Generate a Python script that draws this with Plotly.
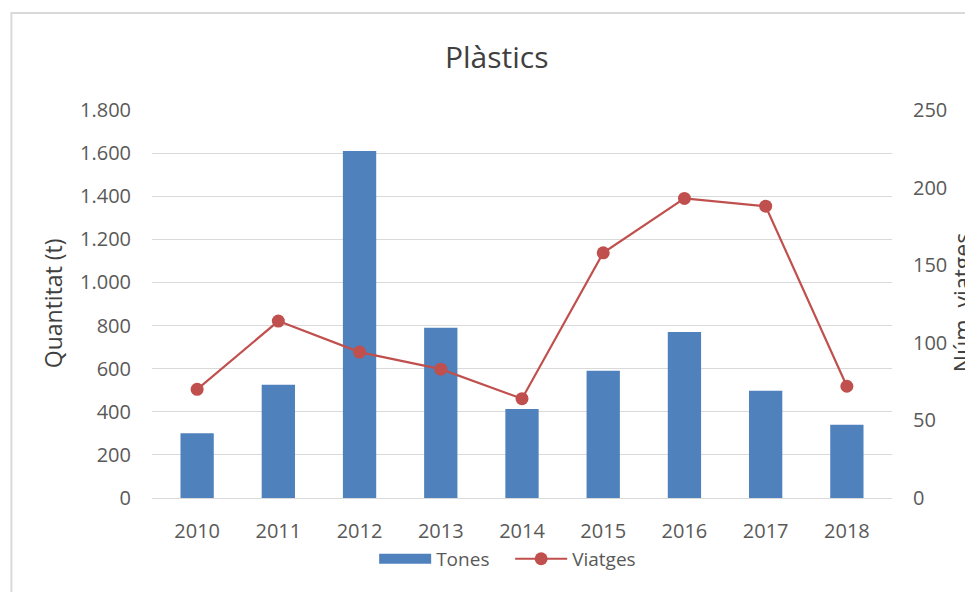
import plotly.graph_objects as go

anys = ["2010", "2011", "2012", "2013", "2014", "2015", "2016", "2017", "2018"]
tones = [300, 525, 1610, 790, 413, 590, 770, 497, 340]
viatges = [70, 114, 94, 83, 64, 158, 193, 188, 72]

txt = "#595959"
font = "Open Sans"
blau = "#4f81bd"
vermell = "#c0504d"
clear = "rgba(0,0,0,0)"

fig = go.Figure()
fig.add_trace(go.Bar(
    x=anys, y=tones, name="Tones", showlegend=False,
    marker=dict(color=blau, line=dict(width=0)),
))
# legend stand-in so the swatch is a wide block like in Excel
fig.add_trace(go.Scatter(
    x=[None], y=[None], name="Tones", mode="lines",
    line=dict(color=blau, width=12),
))
fig.add_trace(go.Scatter(
    x=anys, y=viatges, name="Viatges", yaxis="y2",
    mode="lines+markers",
    line=dict(color=vermell, width=2.2),
    marker=dict(color=vermell, size=13),
))

fig.update_layout(
    width=973, height=592,
    margin=dict(l=144, r=89, t=102, b=102, autoexpand=False),
    paper_bgcolor="white", plot_bgcolor="white",
    separators=",.",
    font=dict(family=font, color=txt, size=20),
    bargap=0.59,
    xaxis=dict(showgrid=False, showline=True, linecolor="#d9d9d9",
               ticks="outside", ticklen=15, tickcolor=clear, automargin=False,
               tickfont=dict(size=20, color=txt)),
    yaxis=dict(range=[0, 1800], dtick=200, tickformat=",d", separatethousands=True,
               gridcolor="#d9d9d9", gridwidth=1, zeroline=False, automargin=False,
               ticks="outside", ticklen=16, tickcolor=clear,
               tickfont=dict(size=20, color=txt)),
    yaxis2=dict(range=[0, 250], dtick=50, overlaying="y", side="right",
                showgrid=False, zeroline=False, automargin=False,
                ticks="outside", ticklen=16, tickcolor=clear,
                tickfont=dict(size=20, color=txt)),
    legend=dict(orientation="h", x=0.484, xanchor="center", y=-0.157, yanchor="middle",
                font=dict(size=19, color=txt), itemwidth=52, entrywidth=69),
    annotations=[
        dict(text="Plàstics", xref="paper", yref="paper", x=0.466, y=1.137,
             showarrow=False, font=dict(size=30, color="#404040"),
             xanchor="center", yanchor="middle"),
        dict(text="Quantitat (t)", xref="paper", yref="paper", x=-0.1346, y=0.503,
             textangle=-90, showarrow=False, font=dict(size=23, color="#404040"),
             xanchor="center", yanchor="middle"),
        dict(text="Núm. viatges", xref="paper", yref="paper", x=1.095, y=0.503,
             textangle=-90, showarrow=False, font=dict(size=23, color="#404040"),
             xanchor="center", yanchor="middle"),
    ],
    shapes=[dict(type="rect", xref="paper", yref="paper",
                 x0=-0.19, x1=1.3, y0=-0.4, y1=1.25,
                 line=dict(color="#d9d9d9", width=2), layer="below")],
)

fig.write_html("out.html")
